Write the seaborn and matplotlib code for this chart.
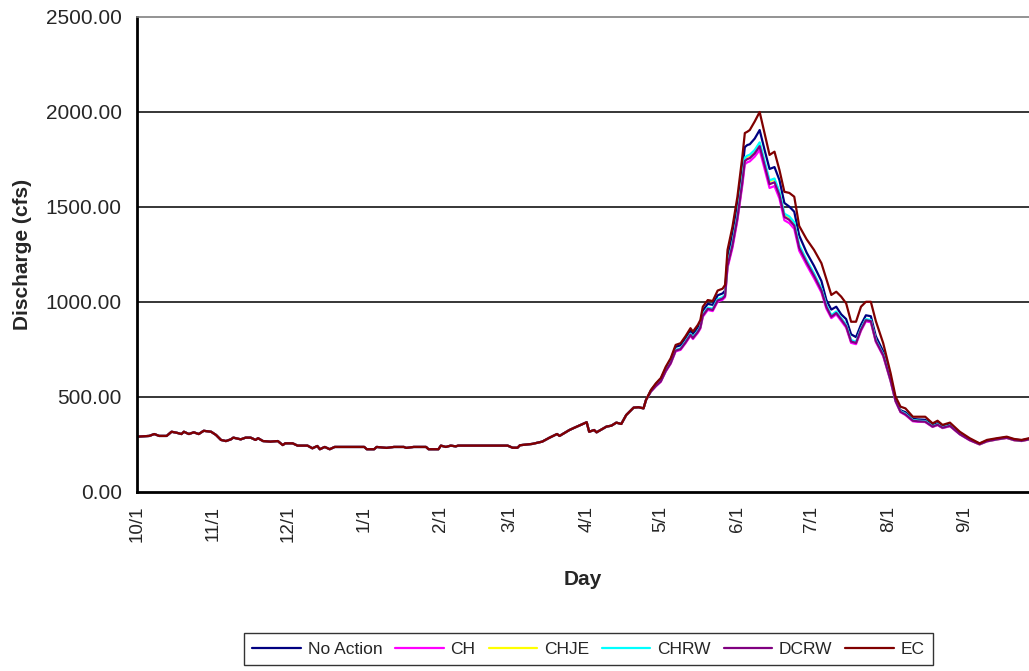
import pandas as pd
import matplotlib.pyplot as plt
import seaborn as sns

# days counted from 10/1 ; flows shared by all scenarios until late April
base_days = [0, 5, 7, 9, 12, 14, 16, 18, 19, 21, 23, 25, 27, 30, 32, 34, 36, 38, 39, 42,
             44, 46, 48, 49, 51, 54, 57, 59, 60, 63, 65, 69, 71, 73, 74, 76, 78, 80, 92, 93,
             96, 97, 101, 104, 108, 109, 112, 117, 118, 122, 123, 125, 127, 129, 130, 139, 150, 152, 154, 155,
             160, 164, 167, 170, 171, 175, 177, 181, 182, 183, 185, 186, 190, 192, 194, 196, 198, 201, 203, 205]
base_q = [291, 295, 305, 295, 295, 317, 312, 305, 317, 305, 314, 305, 322, 317, 300, 274, 268, 277, 286, 277,
          286, 286, 274, 283, 268, 265, 268, 247, 256, 256, 244, 244, 230, 242, 225, 237, 225, 237, 237, 225,
          225, 237, 232, 237, 237, 232, 237, 237, 225, 225, 244, 237, 244, 240, 244, 244, 244, 233, 233, 246,
          253, 265, 286, 305, 295, 326, 338, 361, 367, 317, 326, 314, 344, 349, 365, 358, 405, 444, 446, 440]

season_days = [206, 208, 210, 212, 214, 216, 218, 220, 222, 224,
               225, 227, 228, 229, 231, 233, 235, 237, 238, 239,
               241, 243, 245, 246, 247, 248, 250, 252, 254, 256,
               258, 260, 262, 264, 266, 268, 271, 274, 277, 279,
               281, 283, 285, 287, 289, 291, 293, 295, 297, 299,
               302, 305, 307, 309, 311, 314, 316, 319, 322, 324,
               326, 329, 333, 337, 341, 344, 348, 352, 355, 358, 361]

no_action = [484, 535, 568, 595, 652, 695, 764, 772, 808, 850,
             832, 866, 890, 955, 990, 985, 1035, 1045, 1060, 1230,
             1350, 1500, 1700, 1815, 1826, 1830, 1860, 1905, 1800, 1700,
             1710, 1642, 1521, 1502, 1475, 1350, 1260, 1190, 1110, 1010,
             960, 975, 935, 910, 830, 815, 880, 930, 925, 820,
             740, 600, 490, 430, 420, 385, 382, 380, 352, 362,
             345, 355, 310, 278, 254, 270, 280, 288, 276, 272, 280]
ch = [484, 528, 556, 580, 634, 675, 740, 748, 783, 822,
      805, 838, 860, 922, 958, 952, 1002, 1012, 1025, 1180,
      1285, 1430, 1615, 1725, 1735, 1740, 1765, 1800, 1700, 1600,
      1610, 1545, 1430, 1415, 1385, 1270, 1195, 1125, 1050, 965,
      915, 935, 900, 865, 785, 778, 848, 898, 893, 790,
      715, 582, 476, 420, 405, 372, 370, 368, 342, 352,
      336, 346, 303, 272, 250, 266, 276, 284, 272, 268, 276]
chje = [484, 530, 559, 584, 638, 680, 746, 754, 790, 830,
        813, 846, 868, 932, 967, 962, 1012, 1022, 1037, 1196,
        1306, 1450, 1645, 1755, 1765, 1770, 1795, 1835, 1735, 1635,
        1645, 1575, 1460, 1445, 1415, 1296, 1216, 1146, 1066, 980,
        927, 947, 912, 877, 797, 787, 857, 907, 902, 797,
        723, 588, 481, 424, 410, 377, 374, 372, 345, 355,
        339, 349, 305, 274, 251, 267, 277, 285, 273, 269, 277]
chrw = [484, 530, 560, 585, 640, 682, 748, 756, 792, 832,
        815, 848, 870, 935, 970, 965, 1015, 1025, 1040, 1200,
        1310, 1455, 1650, 1760, 1770, 1775, 1800, 1840, 1740, 1640,
        1650, 1580, 1465, 1450, 1420, 1300, 1220, 1150, 1070, 984,
        930, 950, 915, 880, 800, 790, 860, 910, 905, 800,
        725, 590, 482, 425, 412, 378, 375, 373, 346, 356,
        340, 350, 306, 275, 252, 268, 278, 286, 274, 270, 278]
dcrw = [484, 529, 558, 582, 637, 678, 744, 752, 787, 827,
        810, 843, 865, 928, 964, 958, 1008, 1018, 1032, 1190,
        1298, 1442, 1632, 1742, 1752, 1757, 1782, 1820, 1720, 1620,
        1630, 1562, 1448, 1432, 1402, 1285, 1208, 1138, 1060, 974,
        922, 942, 908, 872, 792, 784, 854, 904, 899, 795,
        720, 586, 479, 422, 408, 375, 372, 370, 344, 354,
        338, 348, 304, 273, 251, 267, 277, 285, 273, 269, 277]
ec = [484, 537, 572, 600, 659, 704, 774, 783, 820, 862,
      844, 880, 905, 975, 1010, 1005, 1060, 1070, 1090, 1274,
      1396, 1554, 1765, 1889, 1896, 1905, 1950, 2000, 1888, 1774,
      1791, 1695, 1580, 1574, 1554, 1400, 1330, 1274, 1204, 1120,
      1037, 1054, 1028, 993, 896, 896, 975, 1001, 1001, 900,
      783, 625, 502, 449, 440, 396, 396, 396, 361, 375,
      353, 365, 317, 283, 256, 274, 283, 291, 279, 274, 283]

scenarios = ["No Action", "CH", "CHJE", "CHRW", "DCRW", "EC"]
colors = ["#000080", "#FF00FF", "#FFFF00", "#00FFFF", "#800080", "#800000"]
month_days = [0, 31, 61, 92, 123, 151, 182, 212, 243, 273, 304, 335]
month_labels = ["10/1", "11/1", "12/1", "1/1", "2/1", "3/1", "4/1", "5/1", "6/1", "7/1", "8/1", "9/1"]

frames = []
for name, vals in zip(scenarios, [no_action, ch, chje, chrw, dcrw, ec]):
    frames.append(pd.DataFrame({"day": base_days + season_days,
                                "q": base_q + vals,
                                "scenario": name}))
df = pd.concat(frames, ignore_index=True)

sns.set_style("white")
plt.rcParams["font.family"] = ["Liberation Sans", "DejaVu Sans"]

fig = plt.figure(figsize=(10.29, 6.71), dpi=100)
ax = fig.add_axes([0.1331, 0.2668, 0.8669, 0.7079])

for y in [500, 1000, 1500, 2000]:
    ax.axhline(y, color="black", lw=1.1, zorder=0)

sns.lineplot(data=df, x="day", y="q", hue="scenario", hue_order=scenarios,
             palette=colors, linewidth=1.6, ax=ax, legend=False)

ax.set_xlim(0, 361)
ax.set_ylim(0, 2500)
ax.set_yticks([0, 500, 1000, 1500, 2000, 2500])
ax.set_yticklabels([f"{v:.2f}" for v in [0, 500, 1000, 1500, 2000, 2500]], fontsize=15)
ax.set_xticks(month_days)
ax.set_xticklabels(month_labels, rotation=90, fontsize=13.5)
ax.tick_params(axis="both", direction="out", length=5, width=1.2, color="black", pad=6)
ax.tick_params(axis="x", pad=5)

for s in ["left", "bottom"]:
    ax.spines[s].set_color("black")
    ax.spines[s].set_linewidth(2)
ax.spines["top"].set_color("#808080")
ax.spines["top"].set_linewidth(1.2)
ax.spines["right"].set_visible(False)

ax.set_xlabel("Day", fontsize=15, fontweight="bold", labelpad=20)
ax.set_ylabel("Discharge (cfs)", fontsize=15, fontweight="bold", labelpad=10)

handles = [plt.Line2D([], [], color=c, lw=1.6) for c in colors]
leg = fig.legend(handles, scenarios, loc="center", bbox_to_anchor=(588.5 / 1029, 1 - 649 / 671),
                 ncol=6, fontsize=12.5, frameon=True, fancybox=False, handlelength=2.8,
                 handletextpad=0.38, columnspacing=0.75, borderpad=0.5)
leg.get_frame().set_edgecolor("black")
leg.get_frame().set_linewidth(1.0)

fig.savefig("out.png", dpi=100)
